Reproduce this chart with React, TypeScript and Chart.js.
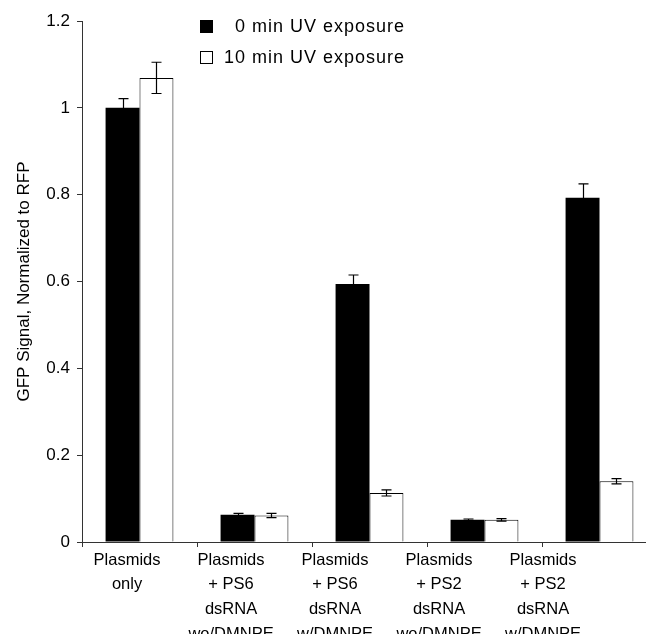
import React, { useEffect, useRef } from 'react';
import { Chart, registerables } from 'chart.js';

Chart.register(...registerables);

const categories: string[][] = [
  ['Plasmids', 'only'],
  ['Plasmids', '+ PS6', 'dsRNA', 'wo/DMNPE'],
  ['Plasmids', '+ PS6', 'dsRNA', 'w/DMNPE'],
  ['Plasmids', '+ PS2', 'dsRNA', 'wo/DMNPE'],
  ['Plasmids', '+ PS2', 'dsRNA', 'w/DMNPE'],
];
const seriesLabels = ['0 min UV exposure', '10 min UV exposure'];
const uv0Values = [1.0, 0.063, 0.594, 0.051, 0.793];
const uv0Errors = [0.021, 0.003, 0.021, 0.002, 0.032];
const uv10Values = [1.069, 0.061, 0.113, 0.051, 0.14];
const uv10Errors = [0.036, 0.005, 0.007, 0.003, 0.006];
const yTickValues = [0, 0.2, 0.4, 0.6, 0.8, 1, 1.2];
const yTickLabels = ['0', '0.2', '0.4', '0.6', '0.8', '1', '1.2'];
const yTitle = 'GFP Signal, Normalized to RFP';

const FONT = "'Liberation Sans', Arial, Helvetica, sans-serif";

const errorBarPlugin = {
  id: 'errorBars',
  afterDatasetsDraw(chart: any) {
    const { ctx } = chart;
    const y = chart.scales.y;
    chart.data.datasets.forEach((ds: any, di: number) => {
      const meta = chart.getDatasetMeta(di);
      meta.data.forEach((bar: any, i: number) => {
        const v = ds.data[i];
        const e = ds.errors[i];
        const top = y.getPixelForValue(v + e);
        const bot = y.getPixelForValue(v - e);
        const x = Math.round(bar.x) + 0.5;
        ctx.save();
        ctx.strokeStyle = '#000';
        ctx.lineWidth = 1.2;
        ctx.beginPath();
        ctx.moveTo(x, top);
        ctx.lineTo(x, bot);
        ctx.moveTo(x - 5, top);
        ctx.lineTo(x + 5, top);
        ctx.moveTo(x - 5, bot);
        ctx.lineTo(x + 5, bot);
        ctx.stroke();
        ctx.restore();
      });
    });
  },
};

const legendPlugin = {
  id: 'customLegend',
  afterDraw(chart: any, _args: any, opts: any) {
    const { ctx } = chart;
    ctx.save();
    ctx.font = `${opts.fontSize}px ${FONT}`;
    try { (ctx as any).letterSpacing = opts.letterSpacing; } catch (e) { /* ignore */ }
    ctx.textBaseline = 'middle';
    ctx.textAlign = 'left';
    chart.data.datasets.forEach((ds: any, i: number) => {
      const bx = opts.x;
      const by = opts.y + i * opts.rowGap;
      ctx.fillStyle = ds.backgroundColor;
      ctx.fillRect(bx, by, opts.box, opts.box);
      ctx.strokeStyle = '#000';
      ctx.lineWidth = 1;
      ctx.strokeRect(bx + 0.5, by + 0.5, opts.box - 1, opts.box - 1);
      ctx.fillStyle = '#000';
      ctx.fillText(ds.label, bx + opts.box + opts.textGaps[i], by + opts.box / 2 + 1);
    });
    ctx.restore();
  },
};

export default function App() {
  const ref = useRef<HTMLCanvasElement>(null);
  useEffect(() => {
    if (!ref.current) return;
    Chart.defaults.font.family = FONT;
    Chart.defaults.font.size = 16;
    Chart.defaults.color = '#000';
    const chart = new Chart(ref.current, {
      type: 'bar',
      data: {
        labels: categories.map((c) => c.join(' ')),
        datasets: [
          {
            label: seriesLabels[0],
            data: uv0Values,
            errors: uv0Errors,
            backgroundColor: '#000',
            borderColor: '#000',
            borderWidth: 0,
            xAxisID: 'x',
            yAxisID: 'y',
          } as any,
          {
            label: seriesLabels[1],
            data: uv10Values,
            errors: uv10Errors,
            backgroundColor: '#fff',
            borderColor: '#000',
            borderWidth: 1,
            xAxisID: 'x',
            yAxisID: 'y',
          } as any,
        ],
      },
      options: {
        responsive: false,
        animation: false,
        layout: { padding: { left: 14, top: 21, right: 3, bottom: 0 } },
        datasets: { bar: { categoryPercentage: 0.59, barPercentage: 1 } },
        plugins: {
          legend: { display: false },
          tooltip: { enabled: false },
          customLegend: { x: 200, y: 20, box: 13, rowGap: 31, textGaps: [22, 11], fontSize: 18, letterSpacing: '1px' },
        } as any,
        scales: {
          x: {
            type: 'category',
            position: 'bottom',
            offset: true,
            weight: 0,
            ticks: { display: false },
            grid: { display: true, drawOnChartArea: false, drawTicks: true, tickLength: 5, offset: true, color: '#333' },
            border: { display: true, color: '#333', width: 1 },
            afterFit: (s: any) => { s.height = 5; },
          },
          x2: {
            type: 'linear',
            axis: 'x',
            position: 'bottom',
            weight: 1,
            offset: false,
            min: -0.433,
            max: 5.096,
            grid: { display: false, drawTicks: false, offset: false },
            border: { display: false },
            ticks: {
              stepSize: 1,
              includeBounds: false,
              autoSkip: false,
              maxRotation: 0,
              padding: 1,
              font: { size: 16.5, lineHeight: 1.49 },
              color: '#000',
              callback: (v: any) => {
                const i = Number(v);
                return Number.isInteger(i) && i >= 0 && i < categories.length ? categories[i] : '';
              },
            },
            afterFit: (s: any) => { s.height = 87; },
          } as any,
          y: {
            type: 'linear',
            min: 0,
            max: 1.2,
            ticks: {
              stepSize: 0.2,
              padding: 7,
              color: '#000',
              font: { size: 17 },
              callback: (v: any) => {
                const idx = yTickValues.findIndex((t) => Math.abs(t - Number(v)) < 1e-6);
                return idx >= 0 ? yTickLabels[idx] : '';
              },
            },
            grid: { display: true, drawOnChartArea: false, drawTicks: true, tickLength: 5, color: '#333' },
            border: { display: true, color: '#333', width: 1 },
            title: { display: true, text: yTitle, font: { size: 17 }, color: '#000', padding: { top: 0, bottom: 0 } },
            afterFit: (s: any) => { s.width = 68; },
          },
        },
      },
      plugins: [errorBarPlugin, legendPlugin],
    });
    return () => chart.destroy();
  }, []);
  return (
    <div style={{ position: 'absolute', left: 0, top: 0, width: 646, height: 634, overflow: 'hidden', background: '#fff' }}>
      <canvas ref={ref} width={660} height={634} style={{ display: 'block', width: 660, height: 634 }} />
    </div>
  );
}
